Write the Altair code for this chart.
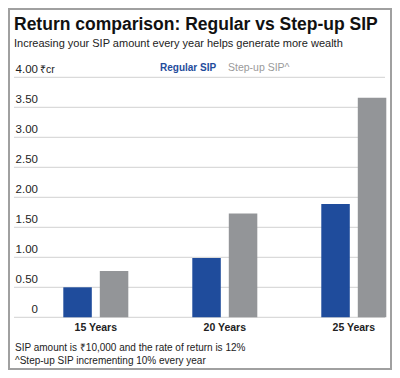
import altair as alt
import pandas as pd

years = ["15 Years", "20 Years", "25 Years"]
series = ["Regular SIP", "Step-up SIP^"]
regular = [0.50, 0.99, 1.89]
stepup = [0.77, 1.73, 3.66]
ticks = [0, 0.5, 1.0, 1.5, 2.0, 2.5, 3.0, 3.5, 4.0]
tick_labels = ["0", "0.50", "1.00", "1.50", "2.00", "2.50", "3.00", "3.50", "4.00"]
unit_label = "₹cr"
title = "Return comparison: Regular vs Step-up SIP"
subtitle = "Increasing your SIP amount every year helps generate more wealth"
notes = ["SIP amount is ₹10,000 and the rate of return is 12%",
         "^Step-up SIP incrementing 10% every year"]
colors = ["#1f4c9c", "#939598"]

FONT = "Liberation Sans, Arial, sans-serif"

# plot-area placement inside the 384x362 canvas
L, T, W, H = 55.3, 69.3, 323, 240

bars_df = pd.DataFrame(
    [{"year": y, "series": series[0], "value": v} for y, v in zip(years, regular)]
    + [{"year": y, "series": series[1], "value": v} for y, v in zip(years, stepup)]
)
ticks_df = pd.DataFrame({"tick": ticks, "label": tick_labels})
unit_df = pd.DataFrame({"tick": [ticks[-1]], "label": [unit_label]})
one = pd.DataFrame({"k": [0]})

yscale = alt.Scale(domain=[0, 4], nice=False)
xscale = alt.Scale(domain=years, paddingInner=0.496, paddingOuter=0)

grid = alt.Chart(ticks_df).mark_rule(color="#dadada", strokeWidth=1.2).encode(
    y=alt.Y("tick:Q", scale=yscale, axis=None),
    x=alt.value(6 - L), x2=alt.value(377 - L),
)

tick_text = alt.Chart(ticks_df).mark_text(
    align="right", baseline="alphabetic", dy=-4, font=FONT, fontSize=11.5, color="#222222"
).encode(
    y=alt.Y("tick:Q", scale=yscale, axis=None),
    x=alt.value(30 - L),
    text="label:N",
)

unit = alt.Chart(unit_df).mark_text(
    align="left", baseline="alphabetic", dy=-4, font=FONT, fontSize=10.5, color="#222222"
).encode(
    y=alt.Y("tick:Q", scale=yscale, axis=None),
    x=alt.value(32 - L),
    text="label:N",
)

bars = alt.Chart(bars_df).mark_bar().encode(
    x=alt.X("year:N", scale=xscale, axis=None),
    xOffset=alt.XOffset("series:N", scale=alt.Scale(domain=series, paddingInner=0.219, paddingOuter=0)),
    y=alt.Y("value:Q", scale=yscale, axis=None),
    color=alt.Color("series:N", scale=alt.Scale(domain=series, range=colors), legend=None),
)

xlabels = alt.Chart(pd.DataFrame({"year": years})).mark_text(
    baseline="alphabetic", font=FONT, fontSize=10.5, fontWeight="bold", color="#222222"
).encode(
    x=alt.X("year:N", scale=xscale, axis=None),
    y=alt.value(322.5 - T),
    text="year:N",
)

def label(txt, x, y, size, color, weight="normal"):
    return alt.Chart(one).mark_text(
        align="left", baseline="alphabetic", font=FONT, fontSize=size, fontWeight=weight, color=color
    ).encode(x=alt.value(x - L), y=alt.value(y - T), text=alt.value(txt))

title_t = label(title, 6, 22, 17.5, "#111111", "bold")
sub_t = label(subtitle, 6, 38.5, 11, "#222222")
leg1 = label(series[0], 152, 63, 10, colors[0], "bold")
leg2 = label(series[1], 220, 63, 10.5, "#9a9a9a")
note1 = label(notes[0], 7, 343, 10, "#222222")
note2 = label(notes[1], 7, 356, 10, "#222222")

frame = alt.Chart(one).mark_rect(fillOpacity=0, stroke="#a0a0a0", strokeWidth=2).encode(
    x=alt.value(1 - L), x2=alt.value(383 - L), y=alt.value(1 - T), y2=alt.value(361 - T)
)

chart = alt.layer(
    grid, tick_text, unit, bars, xlabels, title_t, sub_t, leg1, leg2, note1, note2, frame
).properties(
    width=W, height=H,
    padding={"left": L, "top": T, "right": 384 - L - W, "bottom": 362 - T - H},
    autosize=alt.AutoSizeParams(type="none"),
).configure_view(strokeWidth=0)

chart.save("out.html", embed_options={"renderer": "svg", "actions": False})
